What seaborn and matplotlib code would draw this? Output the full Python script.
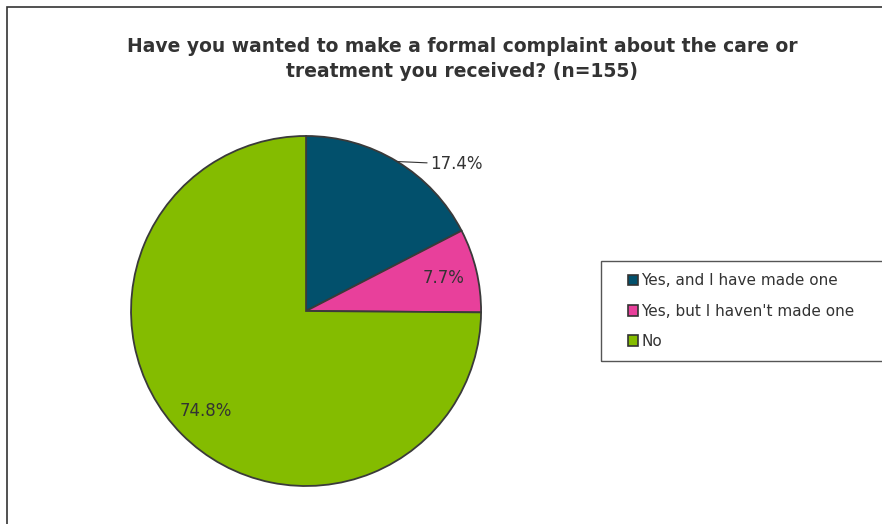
import numpy as np
import matplotlib.pyplot as plt
import matplotlib.patches as mpatches
import seaborn as sns

# Data
categories = ["Yes, and I have made one", "Yes, but I haven't made one", "No"]
values = [17.4, 7.7, 74.8]
colors = ["#02506C", "#E8409B", "#84BC00"]
title = "Have you wanted to make a formal complaint about the care or\ntreatment you received? (n=155)"

sns.set_theme(style="white")
plt.rcParams['font.family'] = ['DejaVu Sans']
palette = sns.color_palette(colors)
pct_labels = [f"{v:.1f}%" for v in values]

fig = plt.figure(figsize=(8.82, 5.24), dpi=100)

# outer chart border (runs off the right and bottom edge)
fig.patches.append(mpatches.Rectangle((7 / 882, -0.1), 1.2, (524 - 7) / 524 + 0.1,
                                      transform=fig.transFigure, fill=False,
                                      edgecolor="#333333", linewidth=1.2))

fig.text(462 / 882, 1 - 59 / 524, title, ha="center", va="center",
         fontsize=13.5, fontweight="bold", color="#333333", linespacing=1.4)

ax = fig.add_axes([0.1485, 0.0725, 0.397, 0.668])
wedges, texts = ax.pie(
    values, colors=palette, startangle=90, counterclock=False,
    labels=pct_labels, labeldistance=0.81,
    wedgeprops=dict(edgecolor="#3a3a3a", linewidth=1.3),
    textprops=dict(fontsize=12, color="#333333", ha="center", va="center"))
ax.set_xlim(-1.0, 1.0)
ax.set_ylim(-1.0, 1.0)
ax.set_aspect("equal")

# first label sits outside with a leader line
w = wedges[0]
ang = np.deg2rad((w.theta1 + w.theta2) / 2)
edge = (np.cos(ang), np.sin(ang))
texts[0].set_visible(False)
ax.annotate(pct_labels[0], xy=edge, xytext=(edge[0] + 0.19, edge[1] - 0.015),
            ha="left", va="center", fontsize=12, color="#333333",
            arrowprops=dict(arrowstyle="-", color="#333333", linewidth=0.8,
                            shrinkA=0, shrinkB=0))

# legend with separate frame
fig.patches.append(mpatches.Rectangle((601 / 882, 1 - 361 / 524), 0.5, 100 / 524,
                                      transform=fig.transFigure, fill=False,
                                      edgecolor="#555555", linewidth=1.0))
handles = [mpatches.Patch(facecolor=c, edgecolor="#333333", linewidth=1.2) for c in palette]
fig.legend(handles, categories, loc="center left",
           bbox_to_anchor=(614 / 882, 1 - 311 / 524), frameon=False,
           fontsize=11, handlelength=0.7, handleheight=0.7,
           handletextpad=0.2, labelspacing=1.0, labelcolor="#333333")

plt.savefig("out.png", dpi=100)
plt.close()
